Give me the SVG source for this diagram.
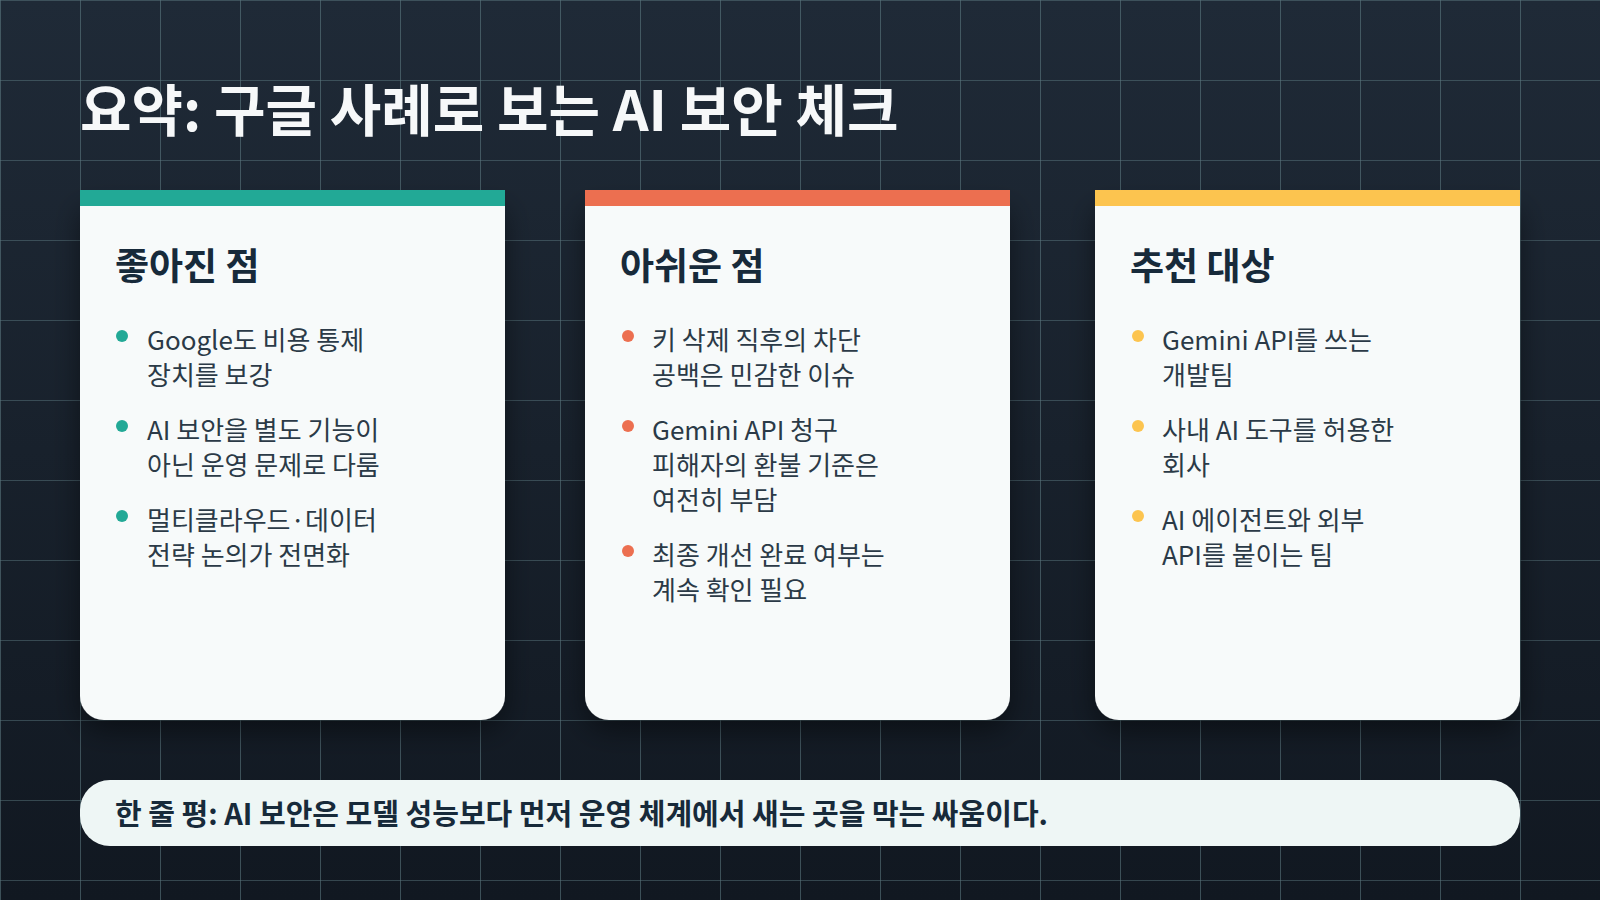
<svg xmlns="http://www.w3.org/2000/svg" width="1600" height="900" viewBox="0 0 1600 900">
<defs>
<linearGradient id="bg" x1="0" y1="0" x2="0" y2="1"><stop offset="0" stop-color="#1f2a37"/><stop offset="1" stop-color="#111821"/></linearGradient>
<pattern id="grid" width="80" height="80" patternUnits="userSpaceOnUse"><path d="M0 0H80M0 0V80" fill="none" stroke="#6a8c92" stroke-width="1.2"/></pattern>
<filter id="sh" x="-20%" y="-20%" width="140%" height="140%"><feDropShadow dx="0" dy="10" stdDeviation="14" flood-color="#000" flood-opacity="0.45"/></filter>
</defs>
<style>
text{font-family:"Noto Sans CJK KR","Noto Sans",sans-serif}
.h{font-size:37px;font-weight:700;fill:#172a3a}
.b{font-size:26px;fill:#2b3a47}
.card{fill:#f7fafa}
</style>
<rect width="1600" height="900" fill="url(#bg)"/>
<rect width="1600" height="900" fill="url(#grid)" opacity="0.8"/>
<text x="80" y="131" font-size="56" font-weight="700" fill="#f6f8f9">요약: 구글 사례로 보는 AI 보안 체크</text>
<g id="card1">
<path class="card" filter="url(#sh)" d="M80 200H505V696a24 24 0 0 1-24 24H104a24 24 0 0 1-24-24Z"/>
<rect x="80" y="190" width="425" height="16" fill="#22a996"/>
<text class="h" x="115" y="280">좋아진 점</text>
<g fill="#22a996"><circle cx="122" cy="336" r="6"/><circle cx="122" cy="426" r="6"/><circle cx="122" cy="516" r="6"/></g>
<text class="b" x="147" y="350">Google도 비용 통제</text><text class="b" x="147" y="385">장치를 보강</text>
<text class="b" x="147" y="440">AI 보안을 별도 기능이</text><text class="b" x="147" y="475">아닌 운영 문제로 다룸</text>
<text class="b" x="147" y="530">멀티클라우드·데이터</text><text class="b" x="147" y="565">전략 논의가 전면화</text>
</g>
<g id="card2">
<path class="card" filter="url(#sh)" d="M585 200H1010V696a24 24 0 0 1-24 24H609a24 24 0 0 1-24-24Z"/>
<rect x="585" y="190" width="425" height="16" fill="#ec6f50"/>
<text class="h" x="620" y="280">아쉬운 점</text>
<g fill="#ec6f50"><circle cx="628" cy="336" r="6"/><circle cx="628" cy="426" r="6"/><circle cx="628" cy="551" r="6"/></g>
<text class="b" x="652" y="350">키 삭제 직후의 차단</text><text class="b" x="652" y="385">공백은 민감한 이슈</text>
<text class="b" x="652" y="440">Gemini API 청구</text><text class="b" x="652" y="475">피해자의 환불 기준은</text><text class="b" x="652" y="510">여전히 부담</text>
<text class="b" x="652" y="565">최종 개선 완료 여부는</text><text class="b" x="652" y="600">계속 확인 필요</text>
</g>
<g id="card3">
<path class="card" filter="url(#sh)" d="M1095 200H1520V696a24 24 0 0 1-24 24H1119a24 24 0 0 1-24-24Z"/>
<rect x="1095" y="190" width="425" height="16" fill="#fcc44f"/>
<text class="h" x="1130" y="280">추천 대상</text>
<g fill="#fcc44f"><circle cx="1138" cy="336" r="6"/><circle cx="1138" cy="426" r="6"/><circle cx="1138" cy="516" r="6"/></g>
<text class="b" x="1162" y="350">Gemini API를 쓰는</text><text class="b" x="1162" y="385">개발팀</text>
<text class="b" x="1162" y="440">사내 AI 도구를 허용한</text><text class="b" x="1162" y="475">회사</text>
<text class="b" x="1162" y="530">AI 에이전트와 외부</text><text class="b" x="1162" y="565">API를 붙이는 팀</text>
</g>
<g id="verdict">
<rect x="80" y="780" width="1440" height="66" rx="30" fill="#eef6f5"/>
<text x="115" y="825" font-size="29" font-weight="700" fill="#172a3a">한 줄 평: AI 보안은 모델 성능보다 먼저 운영 체계에서 새는 곳을 막는 싸움이다.</text>
</g>
<g id="connectors"/>
</svg>
